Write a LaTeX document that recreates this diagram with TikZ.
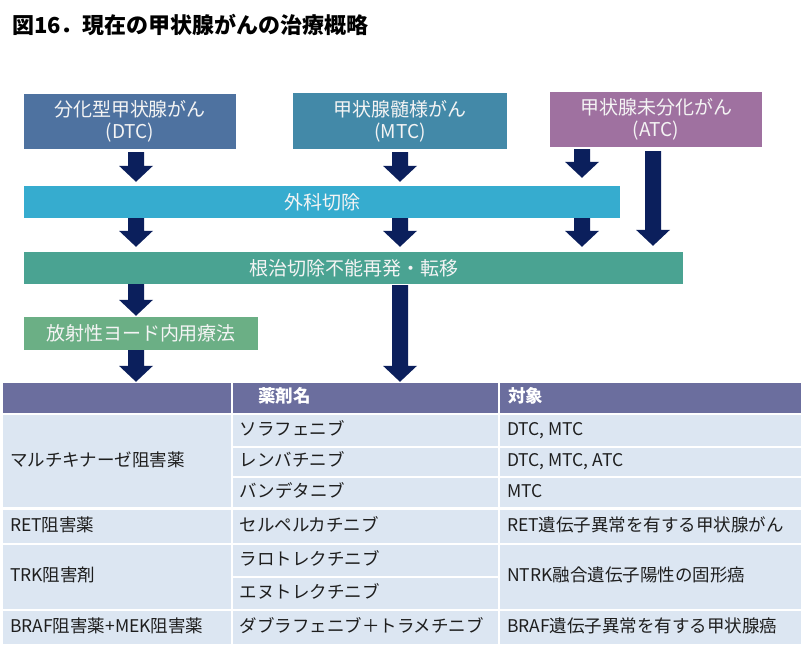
\documentclass[tikz,border=0pt]{standalone}
\usepackage{fontspec}
\setmainfont{Noto Sans CJK JP}
\usetikzlibrary{calc,fit}
\definecolor{cdtc}{HTML}{4E72A0}
\definecolor{cmtc}{HTML}{4389A8}
\definecolor{catc}{HTML}{9F71A0}
\definecolor{cgeka}{HTML}{36ACCF}
\definecolor{ckon}{HTML}{4AA392}
\definecolor{chosha}{HTML}{6BAF85}
\definecolor{carrow}{HTML}{0B1F5C}
\definecolor{chdr}{HTML}{6B6E9E}
\definecolor{cbody}{HTML}{DCE6F2}
\definecolor{ctext}{HTML}{1E1E1E}
\definecolor{cboxtext}{HTML}{F4F4F4}
\newcommand\blockarr[5]{%
  \fill[arrowfill] let \p1=($(#1 |- #2.south)+(0,#4)$), \p2=($(#1 |- #3.north)+(0,-#5)$) in
  (\x1-8pt,\y1) -- (\x1+8pt,\y1) -- (\x1+8pt,\y2+16pt) -- (\x1+17pt,\y2+16pt) --
  (\x1,\y2) -- (\x1-17pt,\y2+16pt) -- (\x1-8pt,\y2+16pt) -- cycle;}
\begin{document}
\begin{tikzpicture}[x=1pt,y=-1pt,
  box/.style={inner sep=0pt, align=center, text=cboxtext,
    font=\fontsize{19}{22}\selectfont},
  arrowfill/.style={fill=carrow},
  hcell/.style={fill=chdr, inner sep=0pt, draw=none},
  bcell/.style={fill=cbody, inner sep=0pt, draw=none},
  ttxt/.style={anchor=base west, inner sep=0pt, text=ctext,
    font=\fontsize{17.5}{20}\selectfont},
  htxt/.style={anchor=base west, inner sep=0pt, text=white,
    font=\fontsize{17.5}{20}\selectfont\bfseries},
  titletxt/.style={anchor=base west, inner sep=0pt, text=black,
    font=\fontsize{22}{24}\selectfont\bfseries}]
\useasboundingbox[fill=white] (0,0) rectangle (804,651);

% title
\node[titletxt] (title) at (12,33) {図16．現在の甲状腺がんの治療概略};

% flow boxes
\node[box, fill=cdtc, minimum width=212pt, minimum height=55pt] (dtc) at (130,121.5) {分化型甲状腺がん\\(DTC)};
\node[box, fill=cmtc, minimum width=214pt, minimum height=56pt] (mtc) at (400,121) {甲状腺髄様がん\\(MTC)};
\node[box, fill=catc, minimum width=212pt, minimum height=55pt] (atc) at (656,119.5) {甲状腺未分化がん\\(ATC)};
\node[box, fill=cgeka, minimum width=596pt, minimum height=32pt] (geka) at (322,202) {外科切除};
\node[box, fill=ckon, minimum width=659pt, minimum height=32pt] (konchi) at (353.5,268) {根治切除不能再発・転移};
\node[box, fill=chosha, minimum width=234pt, minimum height=33pt] (hosha) at (141,333.5) {放射性ヨード内用療法};

% table cells
\node[hcell, fit={(3,383) (230.5,412.5)}] (hA) {};
\node[hcell, fit={(232.5,383) (498,412.5)}] (hB) {};
\node[hcell, fit={(500,383) (801,412.5)}] (hC) {};

\node[bcell, fit={(3,415) (230.5,507)}] (a1) {};
\node[bcell, fit={(3,509.5) (230.5,542.5)}] (a2) {};
\node[bcell, fit={(3,544.5) (230.5,609)}] (a3) {};
\node[bcell, fit={(3,611) (230.5,644)}] (a4) {};

\node[bcell, fit={(232.5,415) (498,445.5)}] (b1) {};
\node[bcell, fit={(232.5,447.5) (498,476)}] (b2) {};
\node[bcell, fit={(232.5,478) (498,507)}] (b3) {};
\node[bcell, fit={(232.5,509.5) (498,542.5)}] (b4) {};
\node[bcell, fit={(232.5,544.5) (498,575.5)}] (b5) {};
\node[bcell, fit={(232.5,577.5) (498,609)}] (b6) {};
\node[bcell, fit={(232.5,611) (498,644)}] (b7) {};

\node[bcell, fit={(500,415) (801,445.5)}] (c1c) {};
\node[bcell, fit={(500,447.5) (801,476)}] (c2c) {};
\node[bcell, fit={(500,478) (801,507)}] (c3c) {};
\node[bcell, fit={(500,509.5) (801,542.5)}] (c4c) {};
\node[bcell, fit={(500,544.5) (801,609)}] (c5c) {};
\node[bcell, fit={(500,611) (801,644)}] (c6c) {};

% header text
\node[htxt] (thB) at ([xshift=25.5pt,yshift=-5pt]hB.west) {薬剤名};
\node[htxt] (thC) at ([xshift=8pt,yshift=-5pt]hC.west) {対象};

% body text
\node[ttxt] (ta1) at ([xshift=7pt,yshift=-5pt]a1.west) {マルチキナーゼ阻害薬};
\node[ttxt] (ta2) at ([xshift=7pt,yshift=-5pt]a2.west) {RET阻害薬};
\node[ttxt] (ta3) at ([xshift=7pt,yshift=-5pt]a3.west) {TRK阻害剤};
\node[ttxt] (ta4) at ([xshift=7pt,yshift=-5pt]a4.west) {BRAF阻害薬+MEK阻害薬};

\node[ttxt] (tb1) at ([xshift=7pt,yshift=-5pt]b1.west) {ソラフェニブ};
\node[ttxt] (tb2) at ([xshift=7pt,yshift=-5pt]b2.west) {レンバチニブ};
\node[ttxt] (tb3) at ([xshift=7pt,yshift=-5pt]b3.west) {バンデタニブ};
\node[ttxt] (tb4) at ([xshift=7pt,yshift=-5pt]b4.west) {セルペルカチニブ};
\node[ttxt] (tb5) at ([xshift=7pt,yshift=-5pt]b5.west) {ラロトレクチニブ};
\node[ttxt] (tb6) at ([xshift=7pt,yshift=-5pt]b6.west) {エヌトレクチニブ};
\node[ttxt] (tb7) at ([xshift=7pt,yshift=-5pt]b7.west) {ダブラフェニブ＋トラメチニブ};

\node[ttxt] (tc1) at ([xshift=7pt,yshift=-5pt]c1c.west) {DTC, MTC};
\node[ttxt] (tc2) at ([xshift=7pt,yshift=-5pt]c2c.west) {DTC, MTC, ATC};
\node[ttxt] (tc3) at ([xshift=7pt,yshift=-5pt]c3c.west) {MTC};
\node[ttxt] (tc4) at ([xshift=7pt,yshift=-5pt]c4c.west) {RET遺伝子異常を有する甲状腺がん};
\node[ttxt] (tc5) at ([xshift=7pt,yshift=-5pt]c5c.west) {NTRK融合遺伝子陽性の固形癌};
\node[ttxt] (tc6) at ([xshift=7pt,yshift=-5pt]c6c.west) {BRAF遺伝子異常を有する甲状腺癌};

% arrow columns
\coordinate (k1) at (136,0);
\coordinate (k2) at (400,0);
\coordinate (k3) at (582,0);
\coordinate (k4) at (653,0);

% block arrows
\blockarr{k1}{dtc}{geka}{3}{4}
\blockarr{k2}{mtc}{geka}{3}{4}
\blockarr{k3}{atc}{geka}{2}{8}
\blockarr{k4}{atc}{konchi}{4}{6}
\blockarr{k1}{geka}{konchi}{0}{5}
\blockarr{k2}{geka}{konchi}{0}{5}
\blockarr{k3}{geka}{konchi}{0}{5}
\blockarr{k1}{konchi}{hosha}{0}{1}
\blockarr{k2}{konchi}{hB}{1}{1}
\blockarr{k1}{hosha}{hA}{0}{1}
\end{tikzpicture}
\end{document}
